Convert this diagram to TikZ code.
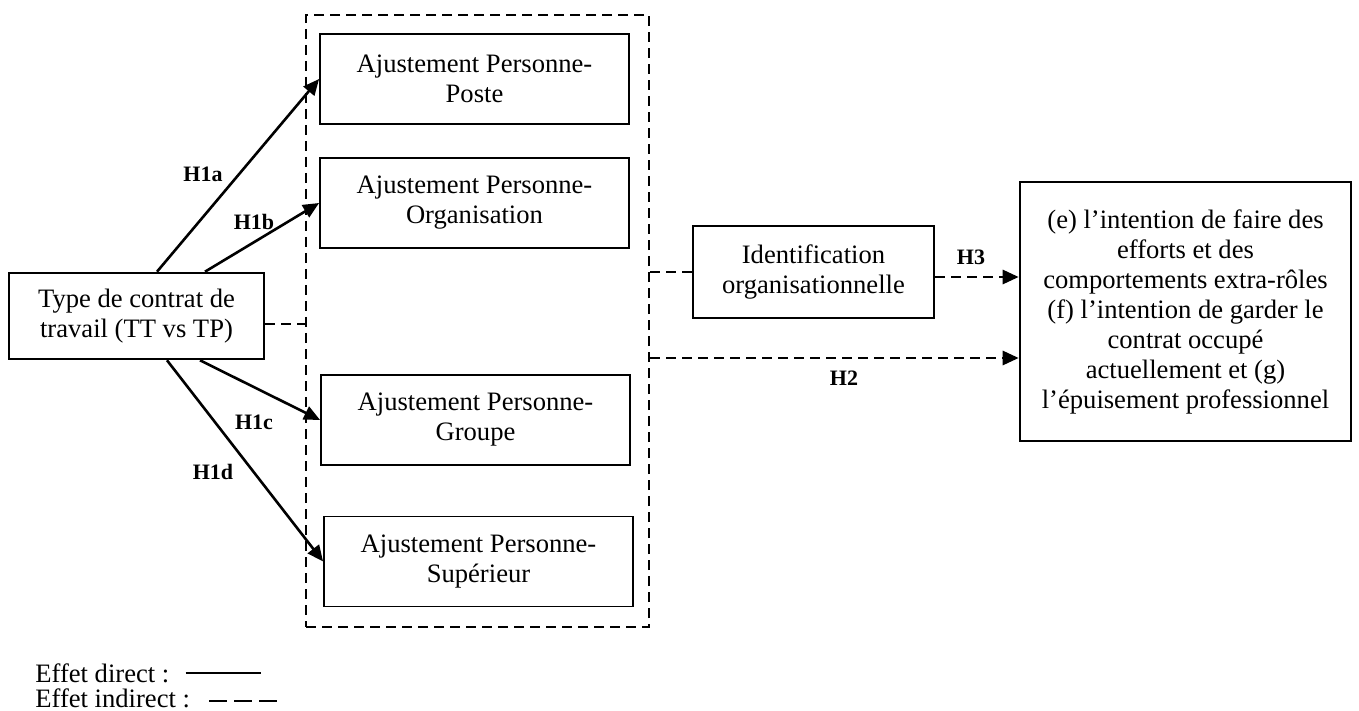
\documentclass[tikz,border=0pt]{standalone}
\usepackage{fontspec}
\setmainfont{Liberation Serif}
\usetikzlibrary{arrows.meta,positioning}

\begin{document}
\begin{tikzpicture}[x=0.5pt,y=-0.5pt,
		every node/.style={font=\fontsize{13.3}{15}\selectfont},
		ajust/.style={draw,line width=0.9pt,minimum width=154.5pt,minimum height=45pt,align=center,inner sep=0pt},
		bloc/.style={draw,line width=1.3pt,align=center,inner sep=0pt},
		direct/.style={line width=1.3pt},
		indirect/.style={line width=1.4pt,dash pattern=on 5pt off 3pt},
		fleche/.style={-{Triangle[length=8pt,width=7pt]}},
		hyp/.style={font=\fontsize{11}{13}\selectfont\bfseries,inner sep=0pt}]
		\useasboundingbox (0,0) rectangle (1359,711);
		% cadre des ajustements
		\node[draw,indirect,line width=1.2pt,minimum width=171.5pt,minimum height=306pt,inner sep=0pt] (cadre) at (477.5,321) {};
		\node[ajust] (poste) at (474.5,79) {Ajustement Personne-\\Poste};
		\node[ajust] (orga) at (474.5,203) {Ajustement Personne-\\Organisation};
		\node[ajust] (groupe) at (475.5,420) {Ajustement Personne-\\Groupe};
		\node[ajust] (sup) at (478.5,561.5) {Ajustement Personne-\\Supérieur};
		\node[bloc,minimum width=127.5pt,minimum height=43pt] (contrat) at (136.5,316) {Type de contrat de\\travail (TT vs TP)};
		\node[bloc,minimum width=120.5pt,minimum height=46pt] (ident) at (813.5,272) {Identification\\organisationnelle};
		\node[bloc,minimum width=165.5pt,minimum height=129.5pt] (effets) at (1185.5,311.5) {(e) l’intention de faire des\\efforts et des\\comportements extra-rôles\\(f) l’intention de garder le\\contrat occupé\\actuellement et (g)\\l’épuisement professionnel};
		% effets directs
		\draw[direct,fleche] ([xshift=10.25pt]contrat.north) -- (poste.west);
		\draw[direct,fleche] ([xshift=34.25pt]contrat.north) -- (orga.west);
		\draw[direct,fleche] ([xshift=31.75pt]contrat.south) -- (groupe.west);
		\draw[direct,fleche] ([xshift=15.25pt]contrat.south) -- (sup.west);
		\node[hyp] (h1a) at (203,174) {H1a};
		\node[hyp] (h1b) at (254,222) {H1b};
		\node[hyp] (h1c) at (254,422) {H1c};
		\node[hyp] (h1d) at (213,472) {H1d};
		% effets indirects
		\coordinate (depart) at ([yshift=-4pt]contrat.east);
		\coordinate (h3fin) at ([yshift=-2.5pt]ident.east);
		\coordinate (h2fin) at ([yshift=-23.25pt]effets.west);
		\draw[indirect] (depart) -- (depart -| cadre.west);
		\draw[indirect] (ident.west -| cadre.east) -- (ident.west);
		\draw[indirect,fleche] (h3fin) -- (h3fin -| effets.west);
		\draw[indirect,fleche] (h2fin -| cadre.east) -- (h2fin);
		\node[hyp] (h3) at (971,257) {H3};
		\node[hyp] (h2) at (844,378) {H2};
		% legende
		\node[anchor=west,inner sep=0pt] (legdirect) at (35,673) {Effet direct :};
		\node[anchor=west,inner sep=0pt] (legindirect) at (35,698) {Effet indirect :};
		\draw[direct] ([xshift=8pt]legdirect.east) -- ++(37.5pt,0);
		\draw[line width=1.3pt,dash pattern=on 9pt off 3.5pt] ([xshift=9.5pt,yshift=-1.5pt]legindirect.east) -- ++(34pt,0);
	\end{tikzpicture}
\end{document}
